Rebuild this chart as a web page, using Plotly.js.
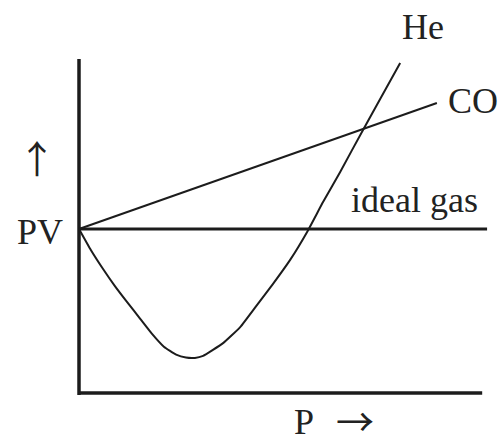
<!DOCTYPE html>
<html>
<head>
<meta charset="utf-8">
<script src="https://cdn.plot.ly/plotly-3.0.1.min.js"></script>
<style>html,body{margin:0;padding:0;background:#fff;}#chart{width:503px;height:448px;}</style>
</head>
<body>
<div id="chart"></div>
<script>
// Ideal gas: PV constant
const idealP = [0, 10];
const idealPV = [5, 5];
// CO: PV rises linearly with P
const coP = [0, 8.77];
const coPV = [5, 8.84];
// He: dips then rises
const heP  = [0, 0.29, 0.59, 0.88, 1.18, 1.50, 1.79, 2.08, 2.38, 2.62, 2.84, 3.04, 3.53, 3.95, 4.36, 4.75, 5.17, 5.59, 5.98, 6.40, 6.96, 7.38, 7.87];
const hePV = [5, 4.36, 3.78, 3.26, 2.77, 2.26, 1.80, 1.41, 1.17, 1.08, 1.07, 1.13, 1.52, 2.01, 2.68, 3.32, 4.05, 4.91, 5.82, 6.74, 8.02, 8.96, 10.06];
// Axes frame
const yAxisP = [0, 0];
const yAxisPV = [-0.06, 10.18];
const xAxisP = [0, 9.88];
const xAxisPV = [0, 0];
// Labels
const labels = ["He", "CO", "ideal gas", "PV", "↑", "P", "→"];

const ink = '#1c1c1c';
const traces = [
  {x: yAxisP, y: yAxisPV, mode: 'lines', line: {color: ink, width: 3.5}, hoverinfo: 'skip'},
  {x: xAxisP, y: xAxisPV, mode: 'lines', line: {color: ink, width: 3.5}, hoverinfo: 'skip'},
  {x: idealP, y: idealPV, mode: 'lines', line: {color: ink, width: 3}, name: 'ideal gas'},
  {x: coP, y: coPV, mode: 'lines', line: {color: ink, width: 2}, name: 'CO'},
  {x: heP, y: hePV, mode: 'lines', line: {color: ink, width: 2, shape: 'spline', smoothing: 0.4}, name: 'He'}
];

const font = {family: 'Liberation Serif, Times New Roman, serif', size: 36, color: '#222'};
const arrowFont = {family: 'Noto Sans CJK JP, DejaVu Sans, sans-serif', size: 38, color: '#222'};
const ann = (t, x, y, xa, ya, f) => ({text: t, x: x, y: y, xref: 'x', yref: 'y', showarrow: false, xanchor: xa, yanchor: ya, font: f || font});
const annotations = [
  ann(labels[0], 8.42, 11.16, 'center', 'middle'),
  ann(labels[1], coP[1] + 0.22, 8.9, 'left', 'middle'),
  ann(labels[2], 8.21, idealPV[0] + 0.2, 'center', 'bottom'),
  ann(labels[3], -0.95, 4.91, 'center', 'middle'),
  ann(labels[4], -1.03, 7.2, 'center', 'middle', arrowFont),
  ann(labels[5], 5.51, -0.88, 'center', 'middle'),
  ann(labels[6], 6.76, -0.8, 'center', 'middle', arrowFont)
];

const layout = {
  width: 503, height: 448,
  margin: {l: 0, r: 0, t: 0, b: 0},
  paper_bgcolor: '#fff', plot_bgcolor: '#fff',
  showlegend: false,
  xaxis: {range: [-1.936, 10.39], visible: false, fixedrange: true},
  yaxis: {range: [-1.677, 11.98], visible: false, fixedrange: true},
  annotations: annotations
};
Plotly.newPlot('chart', traces, layout, {displayModeBar: false, staticPlot: true});
</script>
</body>
</html>
